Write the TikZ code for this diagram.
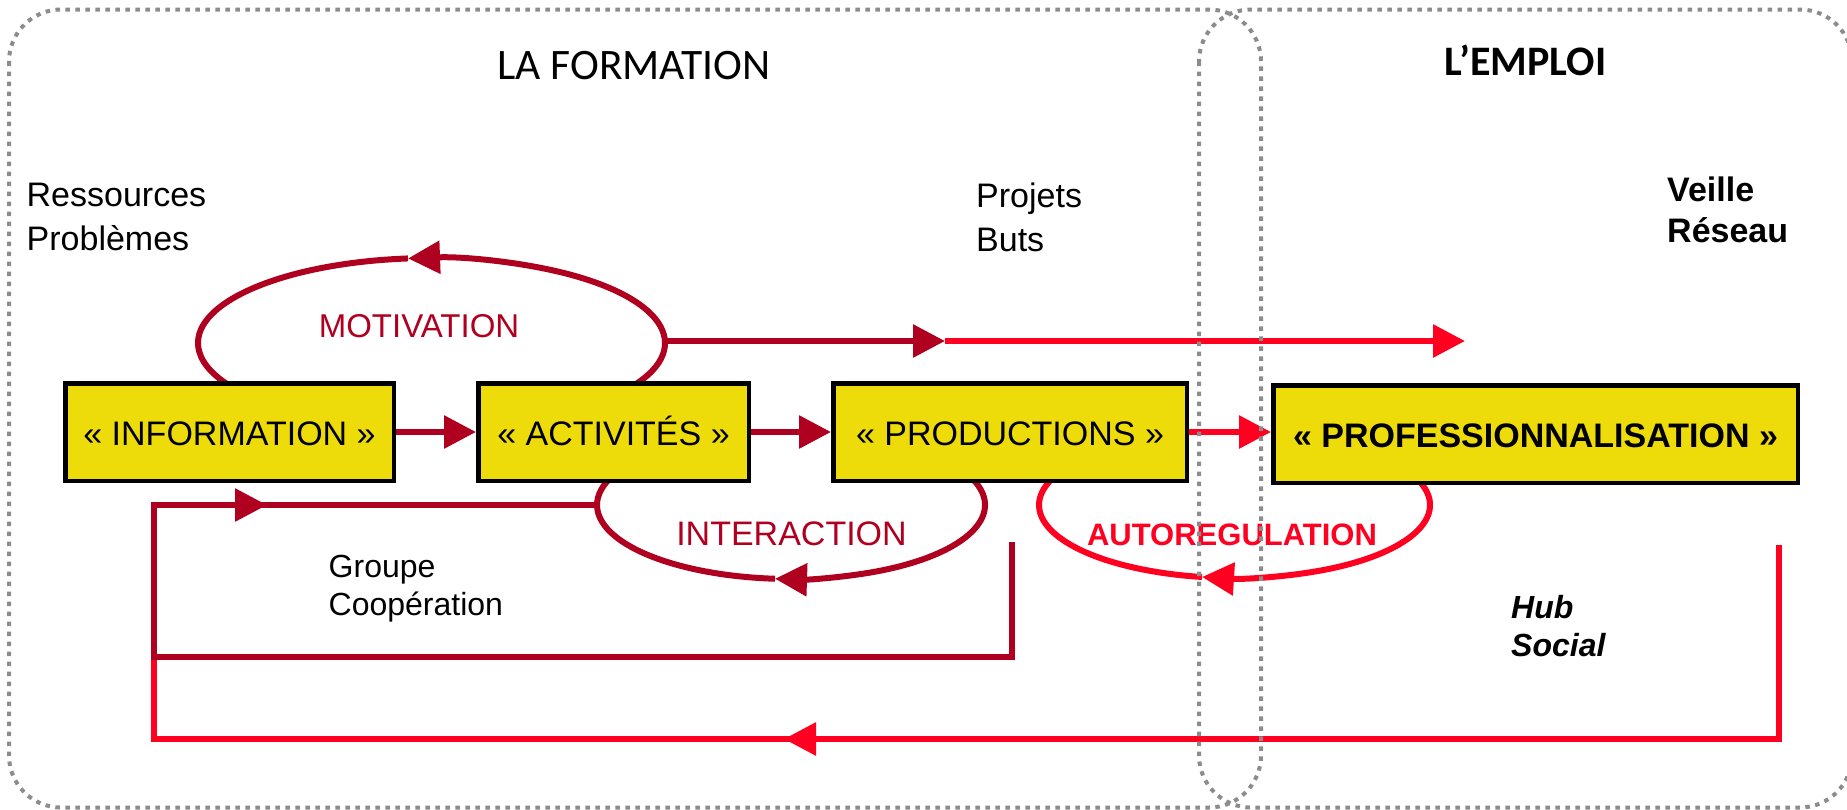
\documentclass[tikz,border=0pt]{standalone}
\usepackage{fontspec}
\setmainfont{Liberation Sans}
\newfontfamily\calibri{Carlito}
\usetikzlibrary{arrows.meta}
\definecolor{darkred}{HTML}{B00020}
\definecolor{brightred}{HTML}{FF0020}
\definecolor{boxyellow}{HTML}{EDDC0A}
\definecolor{dotgray}{HTML}{8C8C8C}
\begin{document}
\begin{tikzpicture}[x=1pt,y=-1pt,
  >={Triangle[length=32pt,width=32pt]},
  box/.style={draw=black, line width=4.5pt, fill=boxyellow, inner sep=0pt,
    minimum height=97.5pt, text height=27pt, text depth=0pt,
    font=\fontsize{34}{40}\selectfont},
  dk/.style={draw=darkred, line width=6pt, line join=miter},
  br/.style={draw=brightred, line width=6pt, line join=miter},
  lbl/.style={inner sep=0pt, align=left, anchor=north west},
  dotbox/.style={draw=dotgray, line width=4pt, dash pattern=on 4.5pt off 5.5pt, rounded corners=52pt}]
\useasboundingbox (0,0) rectangle (1847,809);

% named points
\coordinate (mc) at (431.5,343);
\coordinate (ic) at (791,505);
\coordinate (ac) at (1234.5,505);
\coordinate (motR) at (665,341);
\coordinate (midT) at (945,341);
\coordinate (endT) at (1465,341);
\coordinate (pB) at (1012,542);
\coordinate (pBc) at (1012,657);
\coordinate (pLc) at (154,657);
\coordinate (pLt) at (154,505);
\coordinate (aF) at (267,505);
\coordinate (iL) at (597,505);
\coordinate (qT) at (1779,545);
\coordinate (qB) at (1779,739);
\coordinate (qL) at (154,739);
\coordinate (qT2) at (154,660);
\coordinate (aB) at (784,739);

% MOTIVATION loop
\draw[dk,->] (mc) ++(393.6:233.5 and 85) arc[start angle=393.6, end angle=264.23, x radius=233.5, y radius=85];
\draw[dk] (mc) ++(264.23:233.5 and 85) arc[start angle=264.23, end angle=146.4, x radius=233.5, y radius=85];
% INTERACTION loop
\draw[dk,->] (ic) ++(-23.9:194 and 74) arc[start angle=-23.9, end angle=94.73, x radius=194, y radius=74];
\draw[dk] (ic) ++(94.73:194 and 74) arc[start angle=94.73, end angle=203.9, x radius=194, y radius=74];
% AUTOREGULATION loop
\draw[br,->] (ac) ++(-24.3:195.5 and 73) arc[start angle=-24.3, end angle=99.57, x radius=195.5, y radius=73];
\draw[br] (ac) ++(99.57:195.5 and 73) arc[start angle=99.57, end angle=204.3, x radius=195.5, y radius=73];

% top line
\draw[dk,->] (motR) -- (midT);
\draw[br,->] (midT) -- (endT);

% feedback loops
\draw[dk] (pB) -- (pBc) -- (pLc) -- (pLt) -- (iL);
\draw[dk,->] (pLt) -- (aF);
\draw[br] (qT) -- (qB) -- (qL) -- (qT2);
\draw[br,->] (qB) -- (aB);

% boxes
\node[box, minimum width=328.5pt] (info) at (229.5,432) {« INFORMATION »};
\node[box, minimum width=270.5pt] (act) at (613.5,432) {« ACTIVITÉS »};
\node[box, minimum width=353.5pt] (prod) at (1010,432) {« PRODUCTIONS »};
\node[box, minimum width=524.5pt, font=\fontsize{34}{40}\selectfont\bfseries] (prof) at (1535.5,434) {« PROFESSIONNALISATION »};

\draw[dk,->] (info.east) -- (act.west);
\draw[dk,->] (act.east) -- (prod.west);
\draw[br,->] (prod.east) -- (prod.east -| prof.west);

% headings
\node[anchor=base, inner sep=0pt, font=\calibri\fontsize{43.5}{50}\selectfont] (formation) at (634,79) {LA FORMATION};
\node[anchor=base, inner sep=0pt, font=\calibri\bfseries\fontsize{42}{50}\selectfont] (emploi) at (1525.5,75) {L’EMPLOI};

% loop labels
\node[anchor=base, inner sep=0pt, text=darkred, font=\fontsize{33}{40}\selectfont] (mot) at (419,337) {MOTIVATION};
\node[anchor=base, inner sep=0pt, text=darkred, font=\fontsize{34}{40}\selectfont] (inter) at (791.5,545) {INTERACTION};
\node[anchor=base, inner sep=0pt, text=brightred, font=\fontsize{31}{40}\selectfont\bfseries] (auto) at (1232,545) {AUTOREGULATION};

% side labels
\node[lbl, font=\fontsize{34}{44}\selectfont] (res) at (26.5,183) {Ressources\\Problèmes};
\node[lbl, font=\fontsize{34}{44}\selectfont] (proj) at (976,183) {Projets\\Buts};
\node[lbl, font=\fontsize{34}{41}\selectfont\bfseries] (veille) at (1667,177) {Veille\\Réseau};
\node[lbl, font=\fontsize{32}{38}\selectfont] (groupe) at (328.5,555) {Groupe\\Coopération};
\node[lbl, font=\fontsize{32}{38}\selectfont\bfseries\itshape] (hub) at (1511,595) {Hub\\Social};

% dotted zones
\draw[dotbox] (9,9.5) rectangle (1261,807.5);
\draw[dotbox] (1199,9.5) rectangle (1852,807.5);
\end{tikzpicture}
\end{document}
